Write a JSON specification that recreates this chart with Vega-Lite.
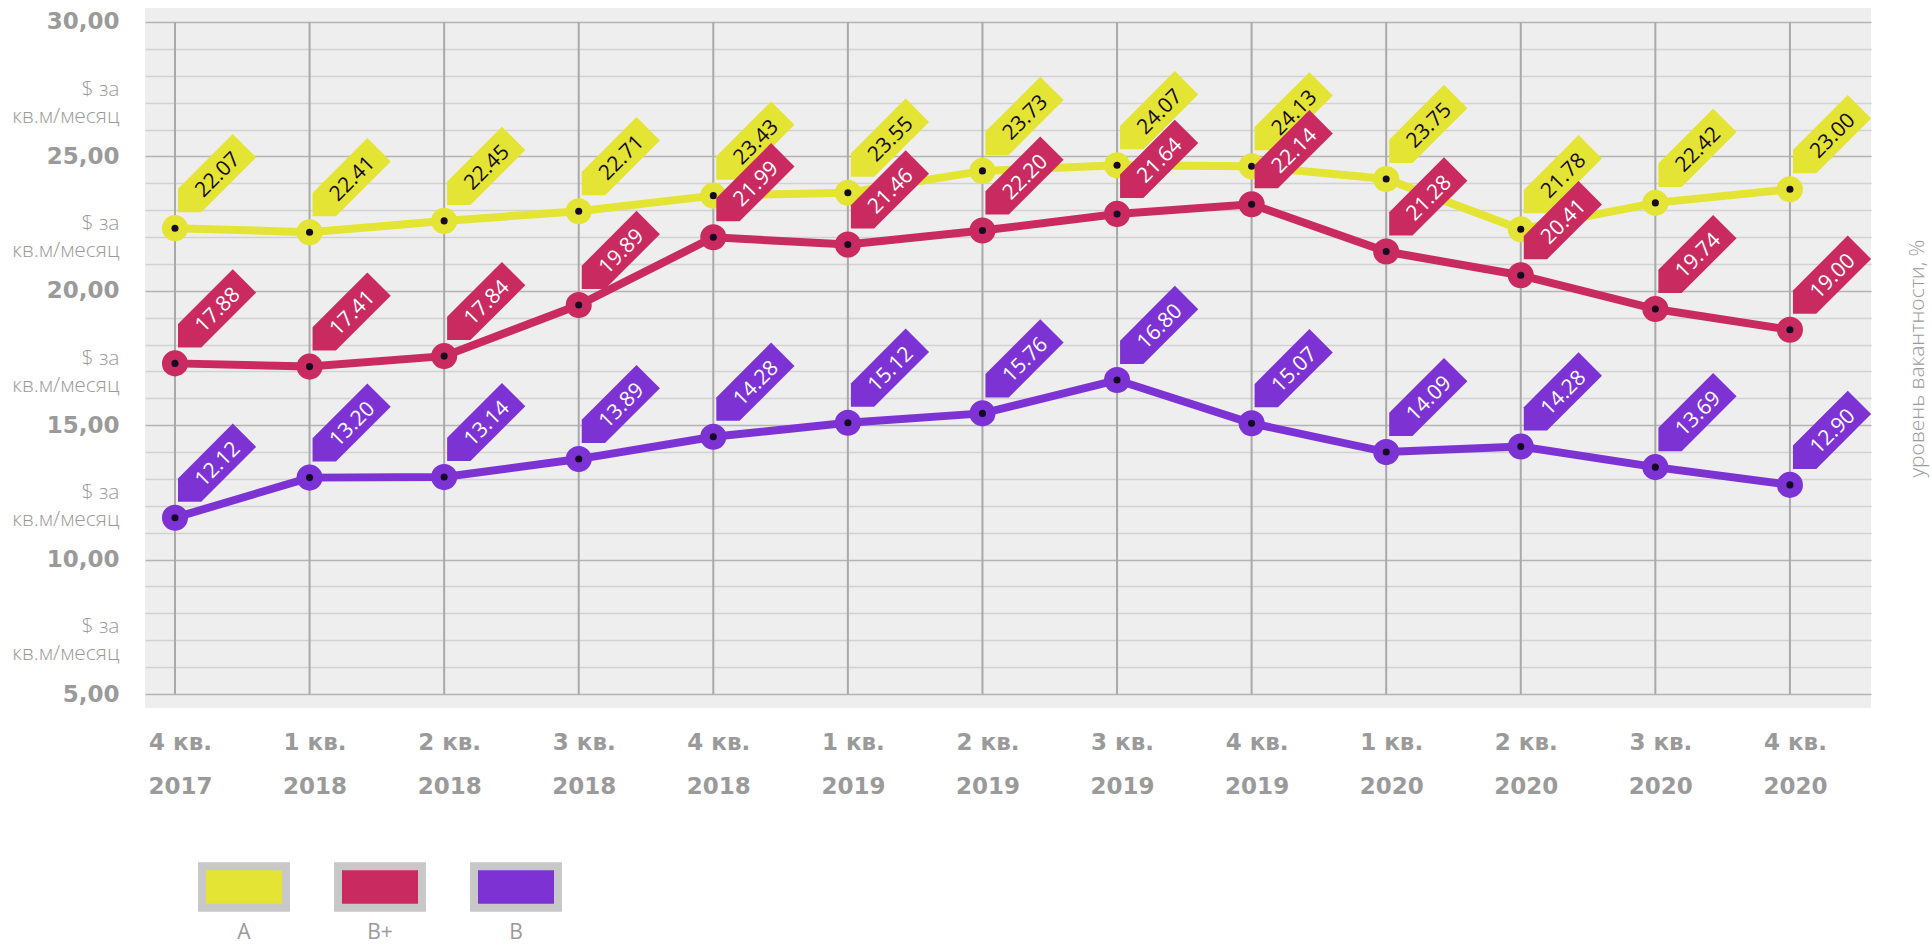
{
  "$schema": "https://vega.github.io/schema/vega-lite/v6.json",
  "width": 1726,
  "height": 700,
  "autosize": {"type": "none"},
  "padding": {"left": 145, "top": 8, "right": 61, "bottom": 237},
  "background": "#ffffff",
  "config": {
    "view": {"fill": "#eeeeee", "stroke": null},
    "legend": {"disable": true},
    "font": "Open Sans"
  },
  "data": {
    "values": [
      {"q": "4 кв. 2017", "series": "A", "rent": 22.33, "label": "22.07"},
      {"q": "1 кв. 2018", "series": "A", "rent": 22.18, "label": "22.41"},
      {"q": "2 кв. 2018", "series": "A", "rent": 22.60, "label": "22.45"},
      {"q": "3 кв. 2018", "series": "A", "rent": 22.96, "label": "22.71"},
      {"q": "4 кв. 2018", "series": "A", "rent": 23.54, "label": "23.43"},
      {"q": "1 кв. 2019", "series": "A", "rent": 23.65, "label": "23.55"},
      {"q": "2 кв. 2019", "series": "A", "rent": 24.46, "label": "23.73"},
      {"q": "3 кв. 2019", "series": "A", "rent": 24.67, "label": "24.07"},
      {"q": "4 кв. 2019", "series": "A", "rent": 24.63, "label": "24.13"},
      {"q": "1 кв. 2020", "series": "A", "rent": 24.16, "label": "23.75"},
      {"q": "2 кв. 2020", "series": "A", "rent": 22.29, "label": "21.78"},
      {"q": "3 кв. 2020", "series": "A", "rent": 23.27, "label": "22.42"},
      {"q": "4 кв. 2020", "series": "A", "rent": 23.78, "label": "23.00"},
      {"q": "4 кв. 2017", "series": "B+", "rent": 17.30, "label": "17.88"},
      {"q": "1 кв. 2018", "series": "B+", "rent": 17.18, "label": "17.41"},
      {"q": "2 кв. 2018", "series": "B+", "rent": 17.57, "label": "17.84"},
      {"q": "3 кв. 2018", "series": "B+", "rent": 19.47, "label": "19.89"},
      {"q": "4 кв. 2018", "series": "B+", "rent": 21.99, "label": "21.99"},
      {"q": "1 кв. 2019", "series": "B+", "rent": 21.72, "label": "21.46"},
      {"q": "2 кв. 2019", "series": "B+", "rent": 22.24, "label": "22.20"},
      {"q": "3 кв. 2019", "series": "B+", "rent": 22.86, "label": "21.64"},
      {"q": "4 кв. 2019", "series": "B+", "rent": 23.22, "label": "22.14"},
      {"q": "1 кв. 2020", "series": "B+", "rent": 21.46, "label": "21.28"},
      {"q": "2 кв. 2020", "series": "B+", "rent": 20.58, "label": "20.41"},
      {"q": "3 кв. 2020", "series": "B+", "rent": 19.32, "label": "19.74"},
      {"q": "4 кв. 2020", "series": "B+", "rent": 18.55, "label": "19.00"},
      {"q": "4 кв. 2017", "series": "B", "rent": 11.56, "label": "12.12"},
      {"q": "1 кв. 2018", "series": "B", "rent": 13.05, "label": "13.20"},
      {"q": "2 кв. 2018", "series": "B", "rent": 13.07, "label": "13.14"},
      {"q": "3 кв. 2018", "series": "B", "rent": 13.74, "label": "13.89"},
      {"q": "4 кв. 2018", "series": "B", "rent": 14.57, "label": "14.28"},
      {"q": "1 кв. 2019", "series": "B", "rent": 15.09, "label": "15.12"},
      {"q": "2 кв. 2019", "series": "B", "rent": 15.44, "label": "15.76"},
      {"q": "3 кв. 2019", "series": "B", "rent": 16.68, "label": "16.80"},
      {"q": "4 кв. 2019", "series": "B", "rent": 15.07, "label": "15.07"},
      {"q": "1 кв. 2020", "series": "B", "rent": 14.00, "label": "14.09"},
      {"q": "2 кв. 2020", "series": "B", "rent": 14.21, "label": "14.28"},
      {"q": "3 кв. 2020", "series": "B", "rent": 13.44, "label": "13.69"},
      {"q": "4 кв. 2020", "series": "B", "rent": 12.78, "label": "12.90"}
    ]
  },
  "resolve": {
    "scale": {"x": "independent"},
    "axis": {"x": "independent", "y": "independent"}
  },
  "layer": [
    {
      "transform": [{"filter": "datum.series == 'A'"}],
      "mark": {"type": "rule", "color": "#a9a9a9", "strokeWidth": 2},
      "encoding": {
        "x": {"field": "q", "type": "nominal", "sort": null, "scale": {"type": "point", "padding": 0.4126, "align": 0.27}, "axis": null},
        "y": {"datum": 5, "type": "quantitative", "axis": null},
        "y2": {"datum": 30}
      }
    },
    {
      "mark": {"type": "line", "strokeWidth": 8},
      "encoding": {
        "x": {
          "field": "q", "type": "nominal", "sort": null,
          "scale": {"type": "point", "padding": 0.4126, "align": 0.27},
          "axis": {
            "orient": "bottom", "domain": false, "ticks": false, "grid": false, "title": null,
            "labelAngle": 0,
            "labelExpr": "[slice(datum.label, 0, 5), slice(datum.label, 6)]",
            "labelFont": "DejaVu Sans", "labelFontSize": 23, "labelFontWeight": "bold",
            "labelColor": "#9a9a9a", "labelPadding": 23, "labelLineHeight": 44,
            "labelBaseline": "top", "labelOffset": 5
          }
        },
        "y": {
          "field": "rent", "type": "quantitative",
          "scale": {"domain": [4.48, 30.52], "nice": false, "zero": false},
          "axis": {
            "orient": "left", "title": null, "domain": false, "ticks": false,
            "values": [5, 6, 7, 8, 9, 10, 11, 12, 13, 14, 15, 16, 17, 18, 19, 20, 21, 22, 23, 24, 25, 26, 27, 28, 29, 30],
            "grid": true,
            "gridColor": {"condition": {"test": "datum.value % 5 == 0", "value": "#b4b4b4"}, "value": "#d2d2d2"},
            "gridWidth": 1.5,
            "labelExpr": "datum.value % 5 == 0 ? replace(format(datum.value, '.2f'), '.', ',') : ''",
            "labelFont": "DejaVu Sans",
            "labelFontSize": 23,
            "labelFontWeight": "bold",
            "labelColor": "#9a9a9a",
            "labelPadding": 26,
            "labelOverlap": false,
            "labelBound": false,
            "labelFlush": false
          }
        },
        "color": {
          "field": "series", "type": "nominal", "legend": null,
          "scale": {"domain": ["A", "B+", "B"], "range": ["#e4e434", "#c92b60", "#7d33d4"]}
        }
      }
    },
    {
      "mark": {"type": "circle", "size": 680, "opacity": 1},
      "encoding": {
        "x": {"field": "q", "type": "nominal", "sort": null, "scale": {"type": "point", "padding": 0.4126, "align": 0.27}, "axis": null},
        "y": {
          "field": "rent", "type": "quantitative",
          "axis": {
            "orient": "right", "labels": false, "ticks": false, "domain": false, "grid": false,
            "title": "уровень вакантности, %",
            "titleAngle": 270, "titleBaseline": "middle",
            "titleFont": "Open Sans", "titleFontSize": 21, "titleFontWeight": 300,
            "titleColor": "#9a9a9a", "titlePadding": 46
          }
        },
        "color": {"field": "series", "type": "nominal", "legend": null}
      }
    },
    {
      "mark": {"type": "circle", "size": 50, "opacity": 1, "color": "#150a24"},
      "encoding": {
        "x": {"field": "q", "type": "nominal", "sort": null, "scale": {"type": "point", "padding": 0.4126, "align": 0.27}, "axis": null},
        "y": {
          "field": "rent", "type": "quantitative",
          "axis": {
            "orient": "left", "title": null, "domain": false, "ticks": false, "grid": false,
            "values": [7.5, 12.5, 17.5, 22.5, 27.5],
            "labelExpr": "['$ за', 'кв.м/месяц']",
            "labelFont": "Open Sans",
            "labelFontSize": 21,
            "labelFontWeight": 300,
            "labelColor": "#9a9a9a",
            "labelPadding": 26,
            "labelLineHeight": 27,
            "labelOverlap": false,
            "labelBound": false,
            "labelFlush": false
          }
        }
      }
    },
    {
      "transform": [{"filter": "datum.series == 'A'"}],
      "encoding": {
        "x": {"field": "q", "type": "nominal", "sort": null, "scale": {"type": "point", "padding": 0.4126, "align": 0.27}, "axis": null},
        "y": {"field": "rent", "type": "quantitative", "axis": null}
      },
      "layer": [
        {
          "mark": {"type": "point", "shape": "M3,-16L3,-39.3L57.8,-94.2L81.2,-70.8L26.3,-16Z", "size": 4, "filled": true, "opacity": 1, "strokeWidth": 0},
          "encoding": {"color": {"field": "series", "type": "nominal", "legend": null}}
        },
        {
          "mark": {"type": "text", "angle": 315, "align": "center", "baseline": "middle", "dx": 68, "dy": -7, "font": "Open Sans", "fontSize": 21, "color": "#150a24"},
          "encoding": {"text": {"field": "label"}}
        }
      ]
    },
    {
      "transform": [{"filter": "datum.series == 'B+'"}],
      "encoding": {
        "x": {"field": "q", "type": "nominal", "sort": null, "scale": {"type": "point", "padding": 0.4126, "align": 0.27}, "axis": null},
        "y": {"field": "rent", "type": "quantitative", "axis": null}
      },
      "layer": [
        {
          "mark": {"type": "point", "shape": "M3,-16L3,-39.3L57.8,-94.2L81.2,-70.8L26.3,-16Z", "size": 4, "filled": true, "opacity": 1, "strokeWidth": 0},
          "encoding": {"color": {"field": "series", "type": "nominal", "legend": null}}
        },
        {
          "mark": {"type": "text", "angle": 315, "align": "center", "baseline": "middle", "dx": 68, "dy": -7, "font": "Open Sans", "fontSize": 21, "color": "#ffffff"},
          "encoding": {"text": {"field": "label"}}
        }
      ]
    },
    {
      "transform": [{"filter": "datum.series == 'B'"}],
      "encoding": {
        "x": {"field": "q", "type": "nominal", "sort": null, "scale": {"type": "point", "padding": 0.4126, "align": 0.27}, "axis": null},
        "y": {"field": "rent", "type": "quantitative", "axis": null}
      },
      "layer": [
        {
          "mark": {"type": "point", "shape": "M3,-16L3,-39.3L57.8,-94.2L81.2,-70.8L26.3,-16Z", "size": 4, "filled": true, "opacity": 1, "strokeWidth": 0},
          "encoding": {"color": {"field": "series", "type": "nominal", "legend": null}}
        },
        {
          "mark": {"type": "text", "angle": 315, "align": "center", "baseline": "middle", "dx": 68, "dy": -7, "font": "Open Sans", "fontSize": 21, "color": "#ffffff"},
          "encoding": {"text": {"field": "label"}}
        }
      ]
    },
    {
      "transform": [{"filter": "datum.q == '4 кв. 2017'"}],
      "encoding": {
        "x": {"field": "series", "type": "nominal", "sort": null, "scale": {"type": "point", "range": [99, 371], "padding": 0}, "axis": null}
      },
      "layer": [
        {
          "mark": {"type": "point", "shape": "M-42,-20.75L42,-20.75L42,20.75L-42,20.75Z", "size": 4, "filled": true, "opacity": 1, "stroke": "#c8c8c8", "strokeWidth": 8},
          "encoding": {
            "y": {"datum": -2.18, "type": "quantitative", "axis": null},
            "color": {"field": "series", "type": "nominal", "legend": null}
          }
        },
        {
          "mark": {"type": "text", "align": "center", "baseline": "middle", "font": "Open Sans", "fontSize": 21, "color": "#9a9a9a"},
          "encoding": {
            "y": {"datum": -3.9, "type": "quantitative", "axis": null},
            "text": {"field": "series"}
          }
        }
      ]
    }
  ]
}
